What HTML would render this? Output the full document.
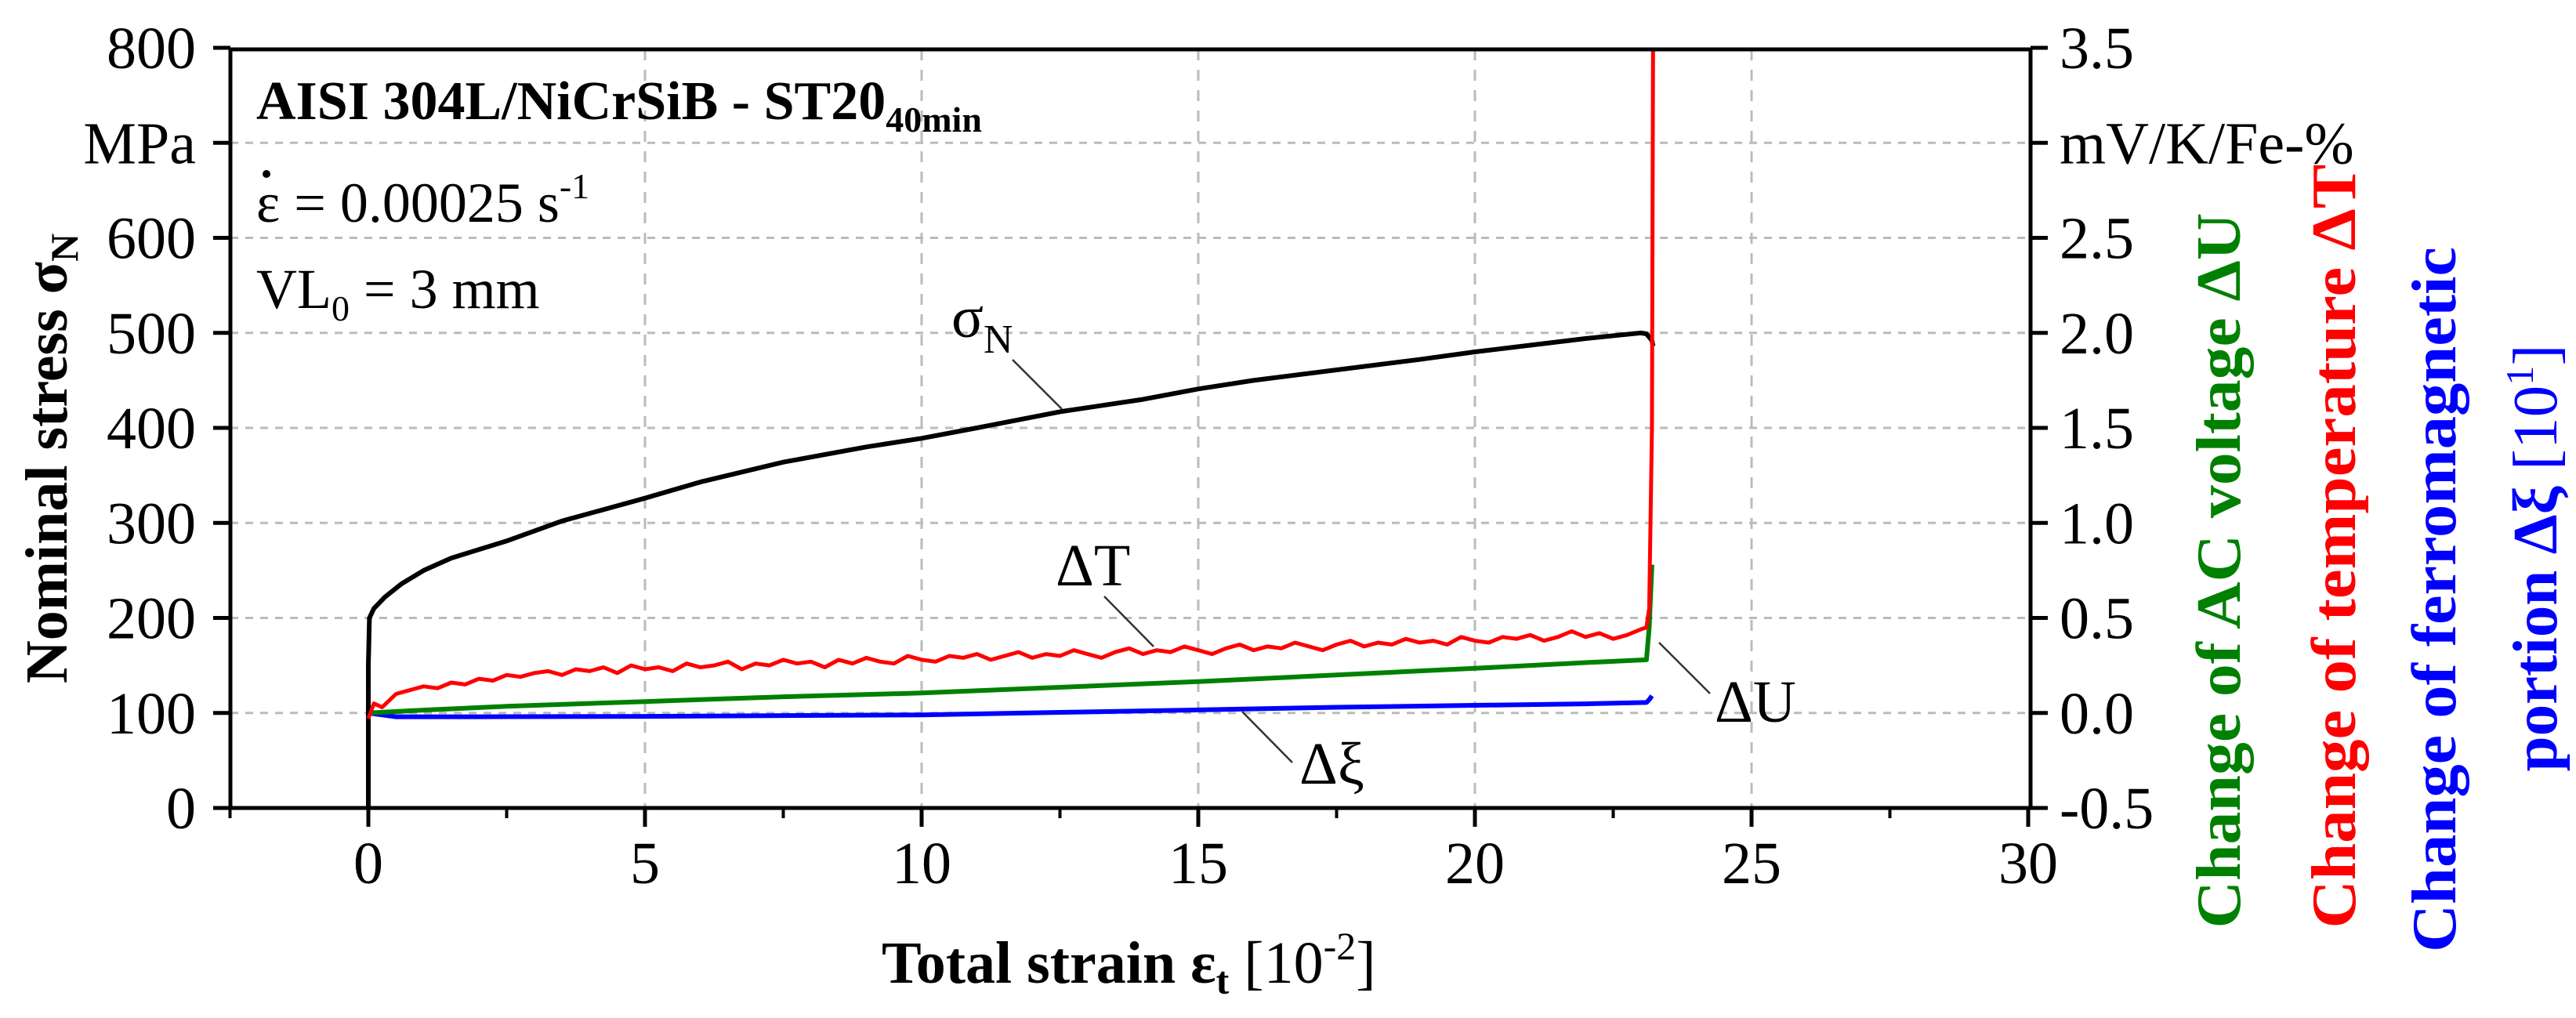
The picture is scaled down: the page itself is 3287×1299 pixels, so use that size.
<!DOCTYPE html>
<html><head><meta charset="utf-8"><style>
html,body{margin:0;padding:0;background:#fff;}
svg{display:block;font-family:"Liberation Serif",serif;}
</style></head><body>
<svg id="chart" width="3287" height="1299" viewBox="0 0 3287 1299" xmlns="http://www.w3.org/2000/svg">
<g id="grid"></g>
<g id="series"></g>
<g id="axes"></g>
<g font-size="70" fill="#000">
 <text x="327" y="152" font-weight="bold">AISI 304L/NiCrSiB - ST20<tspan font-size="46" dy="16">40min</tspan></text>
 <text x="327" y="283" font-size="72">ε = 0.00025 s<tspan font-size="46" dy="-30">-1</tspan></text>
 <circle cx="340" cy="222" r="5" fill="#000"/>
 <text x="327" y="393" font-size="72">VL<tspan font-size="46" dy="16">0</tspan><tspan dy="-16"> = 3 mm</tspan></text>
 <text x="1214" y="430" font-size="76">σ<tspan font-size="52" dy="20">N</tspan></text>
 <line x1="1292" y1="459" x2="1355" y2="522" stroke="#333" stroke-width="2.5"/>
 <text x="1347" y="747" font-size="76">ΔT</text>
 <line x1="1409" y1="761" x2="1472" y2="825" stroke="#333" stroke-width="2.5"/>
 <text x="1658" y="1000" font-size="76">Δξ</text>
 <line x1="1585" y1="908" x2="1649" y2="973" stroke="#333" stroke-width="2.5"/>
 <text x="2188" y="921" font-size="76">ΔU</text>
 <line x1="2117" y1="820" x2="2182" y2="885" stroke="#333" stroke-width="2.5"/>
</g>
<text x="1125" y="1254" font-size="76"><tspan font-weight="bold">Total strain ε</tspan><tspan font-weight="bold" font-size="50" dy="14">t</tspan><tspan dy="-14"> [10</tspan><tspan font-size="50" dy="-30">-2</tspan><tspan dy="30">]</tspan></text>
<text transform="translate(85,585) rotate(-90)" text-anchor="middle" font-size="76" font-weight="bold">Nominal stress σ<tspan font-size="50" dy="14">N</tspan></text>
<g font-size="80" font-weight="bold" text-anchor="middle" lengthAdjust="spacingAndGlyphs">
 <text transform="translate(2858,728) rotate(-90)" fill="#008000" textLength="913" lengthAdjust="spacingAndGlyphs">Change of AC voltage ΔU</text>
 <text transform="translate(3005,697) rotate(-90)" fill="#ff0000" textLength="975" lengthAdjust="spacingAndGlyphs">Change of temperature ΔT</text>
 <text transform="translate(3133,765) rotate(-90)" fill="#0000ff" textLength="900" lengthAdjust="spacingAndGlyphs">Change of ferromagnetic</text>
 <text transform="translate(3262,712) rotate(-90)" fill="#0000ff" textLength="545" lengthAdjust="spacingAndGlyphs">portion Δξ <tspan font-weight="normal">[10</tspan><tspan font-weight="normal" font-size="50" dy="-30">1</tspan><tspan font-weight="normal" dy="30">]</tspan></text>
</g>
</svg>
<script>
const xTicks=[0,5,10,15,20,25,30];
const xMinor=[-2.5,2.5,7.5,12.5,17.5,22.5,27.5];
const yLeftTicks=[0,100,200,300,400,500,600,700,800];
const yLeftLabels=["0","100","200","300","400","500","600","MPa","800"];
const yRightTicks=[-0.5,0,0.5,1,1.5,2,2.5,3,3.5];
const yRightLabels=["-0.5","0.0","0.5","1.0","1.5","2.0","2.5","mV/K/Fe-%","3.5"];
const sigmaX=[0,0,0.02,0.1,0.3,0.6,1,1.5,2.5,3.5,5,6,7.5,9,10,11,12.5,14,15,16,17.5,19,20,21,22,22.5,23,23.1,23.2,23.22];
const sigmaY=[0,150,200,210,222,236,250,263,281,302,326,343,364,380,389,400,417,430,441,450,461,472,480,487,494,497,500,499,492,486];
const uX=[0,1,2.5,5,7.5,10,12.5,15,17.5,20,22,23.1,23.15,23.2];
const uY=[0,0.015,0.035,0.06,0.085,0.105,0.135,0.165,0.2,0.235,0.265,0.28,0.45,0.78];
const xiX=[0,0.5,2,5,7.5,10,12.5,15,17.5,20,22,23.1,23.15,23.2];
const xiY=[0,-0.02,-0.02,-0.018,-0.014,-0.01,0.003,0.016,0.03,0.04,0.048,0.055,0.07,0.09];
const tX=[0,0.1,0.25,0.5,0.75,1,1.25,1.5,1.75,2,2.25,2.5,2.75,3,3.25,3.5,3.75,4,4.25,4.5,4.75,5,5.25,5.5,5.75,6,6.25,6.5,6.75,7,7.25,7.5,7.75,8,8.25,8.5,8.75,9,9.25,9.5,9.75,10,10.25,10.5,10.75,11,11.25,11.5,11.75,12,12.25,12.5,12.75,13,13.25,13.5,13.75,14,14.25,14.5,14.75,15,15.25,15.5,15.75,16,16.25,16.5,16.75,17,17.25,17.5,17.75,18,18.25,18.5,18.75,19,19.25,19.5,19.75,20,20.25,20.5,20.75,21,21.25,21.5,21.75,22,22.25,22.5,22.75,23,23.1,23.15,23.2,23.22];
const tY=[-0.03,0.05,0.03,0.1,0.12,0.14,0.13,0.16,0.15,0.18,0.17,0.2,0.19,0.21,0.22,0.2,0.23,0.22,0.24,0.21,0.25,0.23,0.24,0.22,0.26,0.24,0.25,0.27,0.23,0.26,0.25,0.28,0.26,0.27,0.24,0.28,0.26,0.29,0.27,0.26,0.3,0.28,0.27,0.3,0.29,0.31,0.28,0.3,0.32,0.29,0.31,0.3,0.33,0.31,0.29,0.32,0.34,0.31,0.33,0.32,0.35,0.33,0.31,0.34,0.36,0.33,0.35,0.34,0.37,0.35,0.33,0.36,0.38,0.35,0.37,0.36,0.39,0.37,0.38,0.36,0.4,0.38,0.37,0.4,0.39,0.41,0.38,0.4,0.43,0.4,0.42,0.39,0.41,0.44,0.45,0.55,1.5,3.7];
const X0=470,XS=70.6,YB=1031,YS=1.2125,PL=294,PR=2591,PT=63;
function xp(v){return X0+v*XS;}
function yl(v){return YB-v*YS;}
function yr(v){return yl(100+v*200);}
const NS='http://www.w3.org/2000/svg';
function mk(tag,attrs,parent){const e=document.createElementNS(NS,tag);for(const k in attrs)e.setAttribute(k,attrs[k]);parent.appendChild(e);return e;}
const grid=document.getElementById('grid'),axes=document.getElementById('axes'),series=document.getElementById('series');
yLeftTicks.forEach(v=>{if(v>0&&v<800){const l=mk('line',{x1:PL,x2:PR,y1:yl(v),y2:yl(v),stroke:'#bbb','stroke-width':3,'stroke-dasharray':'10 9'},grid);

}});
xTicks.forEach(v=>{if(v>0&&v<30){const l=mk('line',{x1:xp(v),x2:xp(v),y1:PT,y2:YB,stroke:'#bbb','stroke-width':3,'stroke-dasharray':'14 12'},grid);

}});
function path(xs,ys,fy,color,w,name){let d='';xs.forEach((x,i)=>{d+=(i?'L':'M')+xp(x).toFixed(1)+','+Math.max(fy(ys[i]),PT).toFixed(1);});
const p=mk('path',{d:d,fill:'none',stroke:color,'stroke-width':w,'stroke-linejoin':'round'},series);

}
path(xiX,xiY,yr,'#0000ff',6,'delta-xi-line');
path(uX,uY,yr,'#008000',6,'delta-u-line');
path(sigmaX,sigmaY,yl,'#000',6,'sigma-line');
path(tX,tY,yr,'#ff0000',5,'delta-t-line');
const fr=mk('rect',{x:PL,y:PT,width:PR-PL,height:YB-PT,fill:'none',stroke:'#000','stroke-width':5},axes);


yLeftTicks.forEach((v,i)=>{const t=mk('line',{x1:PL-22,x2:PL,y1:yl(v),y2:yl(v),stroke:'#000','stroke-width':5},axes);


const tx=mk('text',{x:250,y:yl(v)+26,'text-anchor':'end','font-size':76},axes);tx.textContent=yLeftLabels[i];

});
yRightTicks.forEach((v,i)=>{const t=mk('line',{x1:PR,x2:PR+22,y1:yr(v),y2:yr(v),stroke:'#000','stroke-width':5},axes);


const tx=mk('text',{x:2628,y:yr(v)+26,'font-size':76},axes);tx.textContent=yRightLabels[i];

});
xTicks.forEach(v=>{const t=mk('line',{x1:xp(v),x2:xp(v),y1:YB,y2:YB+24,stroke:'#000','stroke-width':5},axes);


const tx=mk('text',{x:xp(v),y:1127,'text-anchor':'middle','font-size':76},axes);tx.textContent=String(v);

});
xMinor.forEach(v=>{const t=mk('line',{x1:xp(v),x2:xp(v),y1:YB,y2:YB+13,stroke:'#000','stroke-width':4},axes);

});
</script>
</body></html>
